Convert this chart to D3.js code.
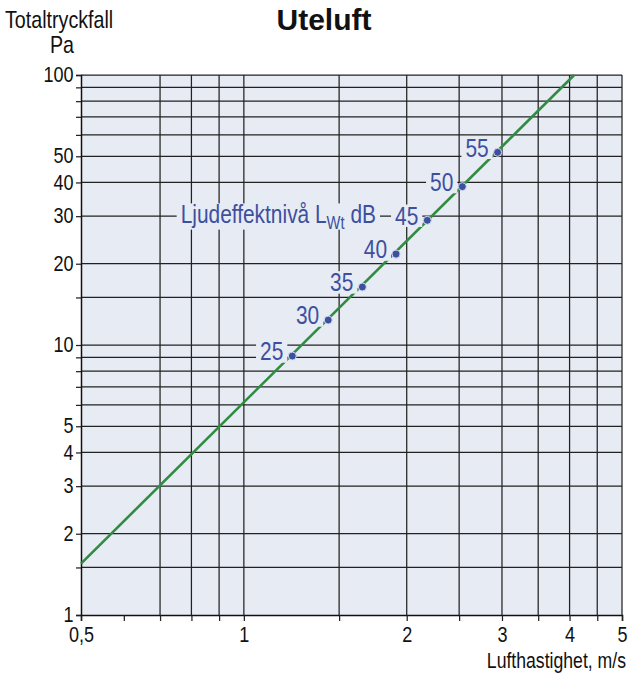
<!DOCTYPE html>
<html>
<head>
<meta charset="utf-8">
<script src="https://cdn.jsdelivr.net/npm/d3@7"></script>
<style>
    body { margin: 0; background: #fff; }
    svg text { font-family: "Liberation Sans", Arial, Helvetica, sans-serif; }
    .tick text { font-size: 22px; fill: #111; }
    .gridline { stroke: #222; stroke-width: 1.25; }
    .soundLabel { fill: #3d4f9f; font-size: 25.5px; }
</style>
</head>
<body>
<div id="chart"></div>
<script>
// axis ticks / grid
const xGridValues = [0.7, 0.8, 0.9, 1, 1.5, 2, 2.5, 3, 3.5, 4, 4.5];
const xTickValues = [0.5, 0.6, 0.7, 0.8, 0.9, 1, 1.5, 2, 2.5, 3, 3.5, 4, 4.5, 5];
const xLabelValues = [0.5, 1, 2, 3, 4, 5];
const xLabelTexts = ["0,5", "1", "2", "3", "4", "5"];

const yGridValues = [1.5, 2, 3, 4, 5, 6, 7, 8, 9, 10, 15, 20, 30, 40, 50, 60, 70, 80, 90, 100];
const yLabelValues = [1, 2, 3, 4, 5, 10, 20, 30, 40, 50, 100];

// pressure drop curve (end points)
const lineVelocity = [0.5, 4.08];
const linePressure = [1.55, 100];

// sound power level marks along the curve
const soundLevels = [25, 30, 35, 40, 45, 50, 55];
const soundVelocity = [1.229, 1.432, 1.656, 1.911, 2.183, 2.534, 2.945];
const soundPressure = [9.10, 12.37, 16.4, 21.7, 28.96, 38.6, 51.7];

const width = 628, height = 675;
const plot = {left: 81, right: 622, top: 75, bottom: 615};
const narrow = 0.82;   // fake condensed face

const svg = d3.select("#chart").append("svg")
    .attr("width", width)
    .attr("height", height);

const xScale = d3.scaleLog().domain([0.5, 5]).range([plot.left, plot.right]);
const yScale = d3.scaleLog().domain([1, 100]).range([plot.bottom, plot.top]);

svg.append("rect")
    .attr("x", plot.left).attr("y", plot.top)
    .attr("width", plot.right - plot.left)
    .attr("height", plot.bottom - plot.top)
    .attr("fill", "#e7ebf3");

// grid
svg.append("g").selectAll("line")
    .data(xGridValues)
    .enter()
    .append("line")
    .attr("class", "gridline")
    .attr("x1", (d) => xScale(d)).attr("x2", (d) => xScale(d))
    .attr("y1", plot.top).attr("y2", plot.bottom);

svg.append("g").selectAll("line")
    .data(yGridValues)
    .enter()
    .append("line")
    .attr("class", "gridline")
    .attr("x1", plot.left).attr("x2", plot.right)
    .attr("y1", (d) => yScale(d)).attr("y2", (d) => yScale(d));

// right border
svg.append("line")
    .attr("class", "gridline")
    .attr("x1", plot.right).attr("x2", plot.right)
    .attr("y1", plot.top).attr("y2", plot.bottom);

// axes
const xAxis = svg.append("g")
    .attr("transform", `translate(0, ${plot.bottom})`)
    .call(d3.axisBottom(xScale)
        .tickValues(xTickValues)
        .tickSize(6)
        .tickPadding(5)
        .tickFormat((d) => {
            let i = xLabelValues.indexOf(d);
            return i >= 0 ? xLabelTexts[i] : "";
        }));
xAxis.select(".domain").attr("stroke", "#111").attr("stroke-width", 1.5);
xAxis.selectAll(".tick line").attr("stroke", "#222").attr("stroke-width", 1.25);
xAxis.selectAll(".tick text").attr("transform", `scale(${narrow},1)`);

const yAxis = svg.append("g")
    .attr("transform", `translate(${plot.left}, 0)`)
    .call(d3.axisLeft(yScale)
        .tickValues(yGridValues.concat([1]))
        .tickSize(5)
        .tickPadding(4)
        .tickFormat((d) => yLabelValues.indexOf(d) >= 0 ? `${d}` : ""));
yAxis.select(".domain").attr("stroke", "#111").attr("stroke-width", 1.5);
yAxis.selectAll(".tick line").attr("stroke", "#222").attr("stroke-width", 1.25);
yAxis.selectAll(".tick text")
    .attr("dy", "0.3em")
    .attr("transform", `scale(${narrow},1)`);

// curve
svg.append("path")
    .datum(lineVelocity.map((v, i) => [v, linePressure[i]]))
    .attr("d", d3.line()
        .x((d) => xScale(d[0]))
        .y((d) => yScale(d[1])))
    .attr("fill", "none")
    .attr("stroke", "#2f8c41")
    .attr("stroke-width", 2.6);

// label helper: condensed text with a background box cut out of the grid
function addBoxedLabel(parent, x, y, build)
{
    let g = parent.append("g")
        .attr("transform", `translate(${x}, ${y}) scale(${narrow}, 1)`);
    let box = g.append("rect").attr("fill", "#e7ebf3");
    let text = g.append("text")
        .attr("class", "soundLabel")
        .attr("text-anchor", "end")
        .attr("dy", "0.36em");
    build(text);
    let bb = text.node().getBBox();
    box.attr("x", bb.x - 4 / narrow).attr("y", bb.y + 3)
        .attr("width", bb.width + 8 / narrow).attr("height", bb.height - 6);
}

const labels = svg.append("g");
soundLevels.forEach((lvl, i) => {
    addBoxedLabel(labels,
        xScale(soundVelocity[i]) - 9,
        yScale(soundPressure[i]) - 5,
        (t) => t.text(`${lvl}`));
});

addBoxedLabel(labels, 376, yScale(30) - 2, (t) => {
    t.append("tspan").text("Ljudeffektnivå L");
    t.append("tspan").attr("font-size", "18px").attr("dy", "6").text("Wt");
    t.append("tspan").attr("dy", "-6").text(" dB");
});

svg.append("g").selectAll("circle")
    .data(soundLevels)
    .enter()
    .append("circle")
    .attr("cx", (d, i) => xScale(soundVelocity[i]))
    .attr("cy", (d, i) => yScale(soundPressure[i]))
    .attr("r", 4)
    .attr("fill", "#3d4f9f")
    .attr("stroke", "#d6dcef")
    .attr("stroke-width", 1);

// titles
function condensedText(x, y, str, size, anchor)
{
    return svg.append("text")
        .attr("transform", `translate(${x}, ${y}) scale(${narrow}, 1)`)
        .attr("text-anchor", anchor)
        .style("font-size", size)
        .attr("fill", "#111")
        .text(str);
}

svg.append("text")
    .attr("x", 324).attr("y", 30)
    .attr("text-anchor", "middle")
    .style("font-weight", "bold")
    .style("font-size", "30px")
    .attr("fill", "#111")
    .text("Uteluft");

condensedText(5, 28, "Totaltryckfall", "24px", "start");
condensedText(62, 53, "Pa", "24px", "middle");
condensedText(626, 668, "Lufthastighet, m/s", "21.5px", "end");
</script>
</body>
</html>
